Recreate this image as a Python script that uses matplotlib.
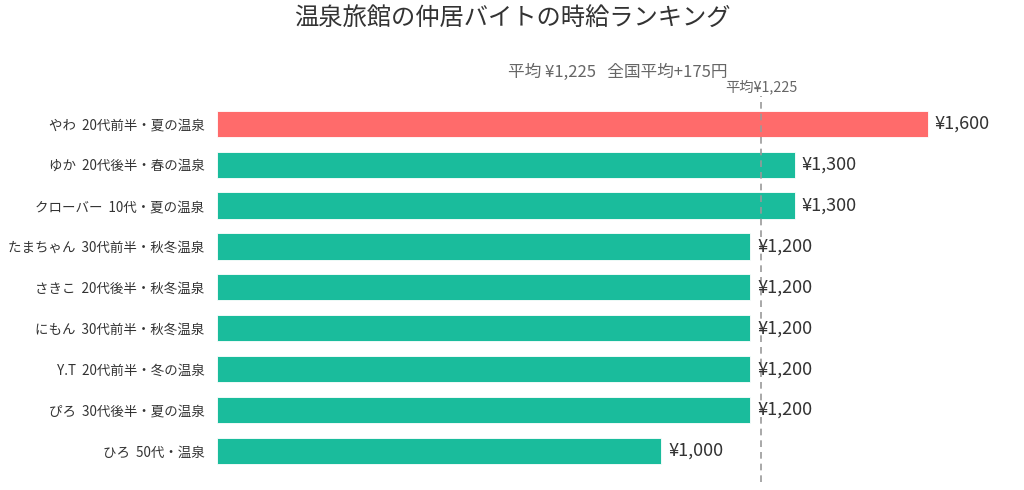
import matplotlib.pyplot as plt

plt.rcParams['font.family'] = ['Noto Sans CJK JP', 'DejaVu Sans']

names = ['やわ  20代前半・夏の温泉', 'ゆか  20代後半・春の温泉', 'クローバー  10代・夏の温泉',
         'たまちゃん  30代前半・秋冬温泉', 'さきこ  20代後半・秋冬温泉', 'にもん  30代前半・秋冬温泉',
         'Y.T  20代前半・冬の温泉', 'ぴろ  30代後半・夏の温泉', 'ひろ  50代・温泉']
wages = [1600, 1300, 1300, 1200, 1200, 1200, 1200, 1200, 1000]
avg = 1225
national_diff = 175

colors = ['#FF6B6B'] + ['#1ABC9C'] * (len(wages) - 1)

fig = plt.figure(figsize=(10.24, 4.9), dpi=100)
ax = fig.add_axes([217 / 1024, 8 / 490, (1000 - 217) / 1024, (482 - 96) / 490])

y = list(range(len(wages)))
ax.barh(y, wages, height=0.64, color=colors, edgecolor='white', linewidth=0.6)
ax.set_ylim(len(wages) - 1 + 0.76, -0.68)
ax.set_xlim(0, 783 / (711 / 1600))

for yi, w in zip(y, wages):
    ax.annotate(f'¥{w:,}', (w, yi), xytext=(5, 0), textcoords='offset points',
                va='center', ha='left', fontsize=13, color='#333333')

ax.axvline(avg, color='#999999', linestyle=(0, (4, 3)), linewidth=1.2)
ax.annotate(f'平均¥{avg:,}', (avg, 1.0), xycoords=('data', 'axes fraction'), xytext=(0, 1),
            textcoords='offset points', ha='center', va='bottom', fontsize=10.3, color='#666666')

ax.set_yticks(y)
ax.set_yticklabels(names, fontsize=9.7, color='#333333')
ax.tick_params(axis='y', length=0, pad=9)
ax.set_xticks([])
for s in ax.spines.values():
    s.set_visible(False)

fig.text(0.5, 0.963, '温泉旅館の仲居バイトの時給ランキング', ha='center', va='center',
         fontsize=17.5, color='#333333')
fig.text(508 / 1024, 1 - 72 / 490, f'平均 ¥{avg:,}   全国平均+{national_diff}円', ha='left', va='center',
         fontsize=12, color='#666666')

fig.savefig('out.png', dpi=100)
